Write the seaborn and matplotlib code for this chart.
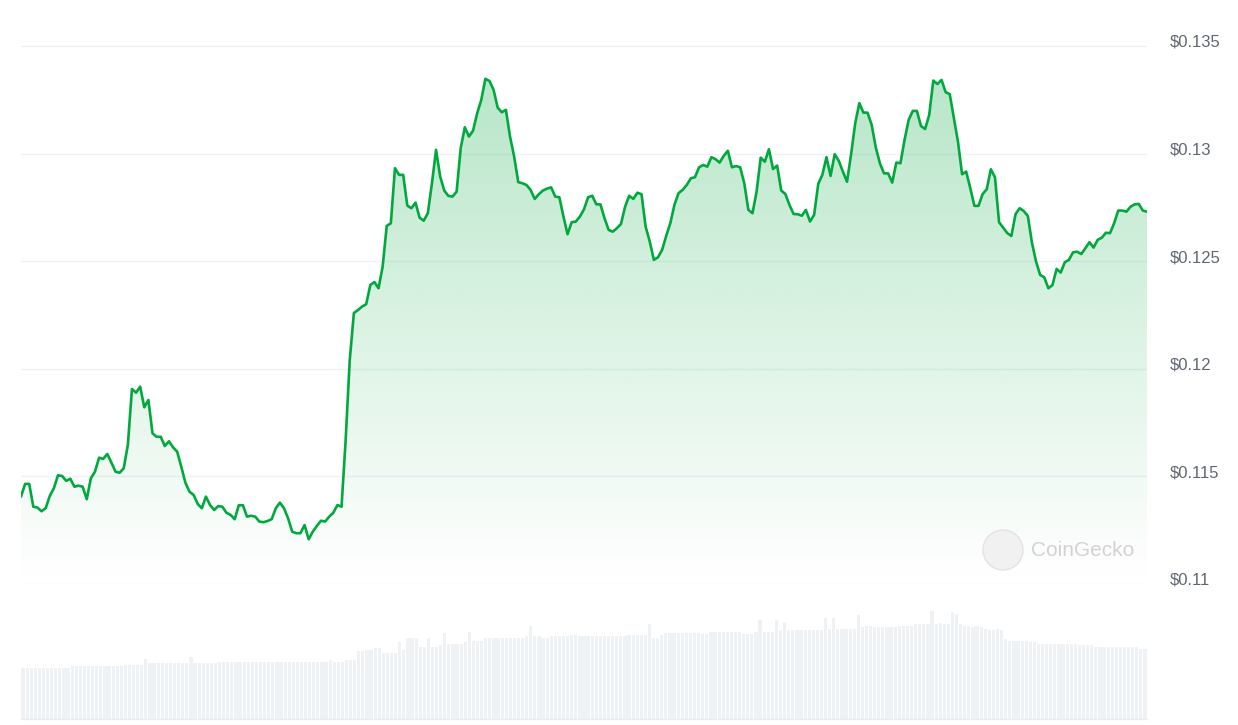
import numpy as np
import pandas as pd
import matplotlib
matplotlib.use("Agg")
import matplotlib.pyplot as plt
import matplotlib.transforms as mtransforms
from matplotlib.patches import Circle
import seaborn as sns

# price samples (USD), evenly spaced over the day
price = [
    0.11406, 0.11465, 0.11465, 0.11359, 0.11355, 0.11338, 0.11352, 0.11409, 0.11445, 0.11505,
    0.11502, 0.11479, 0.11489, 0.11452, 0.11457, 0.11452, 0.11394, 0.11491, 0.11522, 0.11587,
    0.11581, 0.11604, 0.11564, 0.11522, 0.11517, 0.11538, 0.11646, 0.11906, 0.11889, 0.11917,
    0.11821, 0.11855, 0.11700, 0.11684, 0.11684, 0.11641, 0.11663, 0.11635, 0.11615, 0.11545,
    0.11471, 0.11429, 0.11414, 0.11372, 0.11352, 0.11406, 0.11367, 0.11344, 0.11362, 0.11359,
    0.11331, 0.11321, 0.11301, 0.11366, 0.11366, 0.11313, 0.11317, 0.11313, 0.11290, 0.11287,
    0.11293, 0.11301, 0.11352, 0.11378, 0.11352, 0.11305, 0.11243, 0.11236, 0.11236, 0.11274,
    0.11208, 0.11243, 0.11270, 0.11294, 0.11290, 0.11313, 0.11331, 0.11367, 0.11359, 0.11669,
    0.12041, 0.12259, 0.12273, 0.12289, 0.12300, 0.12389, 0.12403, 0.12374, 0.12474, 0.12664,
    0.12676, 0.12932, 0.12901, 0.12901, 0.12758, 0.12746, 0.12772, 0.12702, 0.12688, 0.12723,
    0.12862, 0.13017, 0.12893, 0.12828, 0.12803, 0.12800, 0.12823, 0.13025, 0.13122, 0.13079,
    0.13106, 0.13187, 0.13249, 0.13347, 0.13337, 0.13296, 0.13213, 0.13192, 0.13203, 0.13079,
    0.12986, 0.12867, 0.12862, 0.12854, 0.12831, 0.12789, 0.12811, 0.12828, 0.12837, 0.12843,
    0.12800, 0.12797, 0.12707, 0.12625, 0.12681, 0.12684, 0.12707, 0.12741, 0.12797, 0.12804,
    0.12764, 0.12764, 0.12699, 0.12645, 0.12637, 0.12653, 0.12673, 0.12753, 0.12804, 0.12789,
    0.12818, 0.12811, 0.12660, 0.12591, 0.12506, 0.12518, 0.12552, 0.12617, 0.12676, 0.12761,
    0.12816, 0.12831, 0.12854, 0.12885, 0.12890, 0.12936, 0.12947, 0.12939, 0.12983, 0.12974,
    0.12958, 0.12989, 0.13013, 0.12936, 0.12942, 0.12936, 0.12862, 0.12738, 0.12723, 0.12823,
    0.12981, 0.12962, 0.13020, 0.12928, 0.12944, 0.12828, 0.12812, 0.12761, 0.12719, 0.12718,
    0.12711, 0.12738, 0.12684, 0.12715, 0.12859, 0.12901, 0.12983, 0.12896, 0.12997, 0.12966,
    0.12916, 0.12869, 0.12997, 0.13141, 0.13234, 0.13190, 0.13190, 0.13133, 0.13029, 0.12955,
    0.12908, 0.12908, 0.12865, 0.12958, 0.12955, 0.13063, 0.13156, 0.13198, 0.13198, 0.13128,
    0.13114, 0.13179, 0.13339, 0.13323, 0.13342, 0.13285, 0.13276, 0.13164, 0.13055, 0.12904,
    0.12916, 0.12839, 0.12757, 0.12757, 0.12812, 0.12834, 0.12927, 0.12890, 0.12681, 0.12656,
    0.12630, 0.12617, 0.12718, 0.12746, 0.12733, 0.12710, 0.12586, 0.12498, 0.12436, 0.12425,
    0.12374, 0.12389, 0.12464, 0.12447, 0.12495, 0.12506, 0.12541, 0.12544, 0.12533, 0.12560,
    0.12588, 0.12563, 0.12599, 0.12609, 0.12632, 0.12630, 0.12676, 0.12735, 0.12735, 0.12730,
    0.12753, 0.12764, 0.12766, 0.12735, 0.12730,
]

# traded volume per sample (millions USD)
volume = [
    2.57, 2.57, 2.57, 2.57, 2.57, 2.57, 2.57, 2.57, 2.57, 2.57,
    2.57, 2.57, 2.65, 2.65, 2.65, 2.65, 2.65, 2.65, 2.65, 2.65,
    2.65, 2.65, 2.65, 2.65, 2.65, 2.70, 2.70, 2.70, 2.70, 2.70,
    3.00, 2.79, 2.79, 2.79, 2.79, 2.79, 2.79, 2.79, 2.79, 2.79,
    2.79, 3.12, 2.79, 2.79, 2.79, 2.79, 2.79, 2.79, 2.85, 2.85,
    2.85, 2.85, 2.85, 2.85, 2.85, 2.85, 2.85, 2.85, 2.85, 2.85,
    2.85, 2.85, 2.85, 2.85, 2.85, 2.85, 2.85, 2.85, 2.85, 2.85,
    2.85, 2.85, 2.85, 2.85, 2.85, 2.95, 2.85, 2.85, 2.85, 2.95,
    2.95, 2.95, 3.40, 3.40, 3.45, 3.45, 3.55, 3.55, 3.28, 3.28,
    3.28, 3.28, 3.85, 3.45, 4.04, 4.04, 4.04, 3.60, 3.60, 4.05,
    3.60, 3.60, 3.70, 4.29, 3.74, 3.74, 3.74, 3.74, 3.85, 4.35,
    3.90, 3.90, 3.90, 4.04, 4.04, 4.04, 4.04, 4.04, 4.04, 4.04,
    4.04, 4.04, 4.04, 4.14, 4.65, 4.14, 4.14, 4.04, 4.04, 4.14,
    4.14, 4.14, 4.14, 4.14, 4.20, 4.20, 4.14, 4.14, 4.14, 4.14,
    4.14, 4.14, 4.14, 4.14, 4.14, 4.14, 4.14, 4.14, 4.20, 4.20,
    4.20, 4.20, 4.20, 4.74, 4.07, 4.07, 4.20, 4.29, 4.29, 4.29,
    4.29, 4.29, 4.29, 4.29, 4.29, 4.29, 4.27, 4.27, 4.35, 4.35,
    4.35, 4.35, 4.35, 4.35, 4.35, 4.35, 4.27, 4.27, 4.27, 4.35,
    4.95, 4.35, 4.35, 4.35, 4.95, 4.44, 4.87, 4.44, 4.44, 4.44,
    4.44, 4.44, 4.44, 4.44, 4.44, 4.44, 5.04, 4.50, 5.04, 4.50,
    4.50, 4.50, 4.50, 4.50, 5.20, 4.59, 4.67, 4.67, 4.59, 4.59,
    4.59, 4.59, 4.59, 4.59, 4.67, 4.67, 4.67, 4.67, 4.75, 4.75,
    4.75, 4.75, 5.42, 4.75, 4.82, 4.75, 4.75, 5.34, 5.25, 4.75,
    4.67, 4.67, 4.59, 4.67, 4.59, 4.50, 4.44, 4.44, 4.50, 4.44,
    3.99, 3.90, 3.90, 3.90, 3.90, 3.90, 3.84, 3.84, 3.75, 3.75,
    3.75, 3.75, 3.75, 3.75, 3.75, 3.75, 3.75, 3.75, 3.69, 3.69,
    3.69, 3.69, 3.60, 3.60, 3.60, 3.60, 3.60, 3.60, 3.60, 3.60,
    3.60, 3.60, 3.60, 3.52, 3.52,
]

price_ticks = [0.11, 0.115, 0.12, 0.125, 0.13, 0.135]
price_tick_labels = ["$0.11", "$0.115", "$0.12", "$0.125", "$0.13", "$0.135"]

LINE_GREEN = "#00a83e"
GRID = "#eff2f5"
LABEL_GRAY = "#5f6773"

sns.set_theme(style="white")
plt.rcParams["font.family"] = ["Liberation Sans", "DejaVu Sans"]

df = pd.DataFrame({"step": np.arange(len(price)), "price": price, "volume": volume})

W, H = 1238, 725
fig = plt.figure(figsize=(W / 100, H / 100), dpi=100)
fig.patch.set_facecolor("white")

# price panel
y_lo, y_hi = 0.11, 0.13574
ax = fig.add_axes([21 / W, (H - 584) / H, 1126 / W, (584 - 30) / H])
ax.set_xlim(0, len(price) - 1)
ax.set_ylim(y_lo, y_hi)

# gradient under the line
poly = ax.fill_between(df["step"], df["price"], y_lo, facecolor="none", edgecolor="none")
grad = np.zeros((256, 1, 4))
grad[:, 0, 0] = 0 / 255
grad[:, 0, 1] = 168 / 255
grad[:, 0, 2] = 62 / 255
grad[:, 0, 3] = np.linspace(0.0, 0.30, 256)
im = ax.imshow(grad, aspect="auto", origin="lower",
               extent=[0, len(price) - 1, y_lo, 0.135], zorder=1)
im.set_clip_path(poly.get_paths()[0], ax.transData)

sns.lineplot(data=df, x="step", y="price", color=LINE_GREEN, linewidth=1.9, ax=ax, zorder=3)

for t in price_ticks:
    ax.axhline(t, color=GRID, linewidth=1.0, zorder=0)

ax.yaxis.tick_right()
ax.set_yticks(price_ticks)
ax.set_yticklabels(price_tick_labels)
ax.tick_params(axis="y", length=0, pad=16.5, labelsize=12, labelcolor=LABEL_GRAY)
offset = mtransforms.ScaledTranslation(0, 0.05, fig.dpi_scale_trans)
for lab in ax.get_yticklabels():
    lab.set_transform(lab.get_transform() + offset)
ax.set_xticks([])
ax.set_xlabel("")
ax.set_ylabel("")
for s in ax.spines.values():
    s.set_visible(False)
ax.grid(False)
ax.set_facecolor("none")

# volume panel
axv = fig.add_axes([21 / W, (H - 719) / H, 1126 / W, 120 / H])
sns.barplot(data=df, x="step", y="volume", color="#eff2f5", saturation=1,
            width=0.78, linewidth=0, edgecolor="none", ax=axv)
axv.set_xlim(-0.5, len(volume) - 0.5)
axv.set_ylim(0, 6.0)
axv.set_xticks([])
axv.set_yticks([])
axv.set_xlabel("")
axv.set_ylabel("")
for name, s in axv.spines.items():
    s.set_visible(name == "bottom")
axv.spines["bottom"].set_color("#e8ebef")
axv.spines["bottom"].set_linewidth(1.0)
axv.set_facecolor("none")

# watermark
fig.patches.append(Circle((10.03, (H - 550) / 100), 0.20, transform=fig.dpi_scale_trans,
                          facecolor="#f1f1f1", edgecolor="#e3e3e3", linewidth=1.0, zorder=5))
fig.text(1031 / W, (H - 550) / H, "CoinGecko", fontsize=15, color="#d2d2d2",
         va="center", ha="left", zorder=6)

fig.savefig("out.png", dpi=100, facecolor="white")
